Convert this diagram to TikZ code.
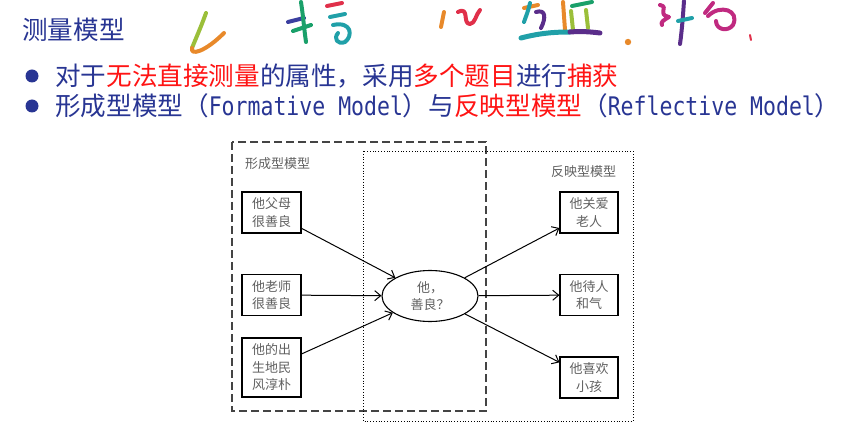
\documentclass[tikz,border=0pt]{standalone}
\usepackage{fontspec}
\setmainfont{Noto Sans CJK SC}
\newfontfamily\latmono{DejaVu Sans Mono}[FakeStretch=0.84]
\usetikzlibrary{arrows.meta,shapes.geometric}
\definecolor{inkblue}{HTML}{283593}
\definecolor{hotred}{HTML}{FF1414}
\definecolor{boxtext}{HTML}{606060}
\definecolor{frame}{HTML}{444444}
% brush colours of the decorative lettering
\definecolor{bOlive}{HTML}{9BBF3A}
\definecolor{bOrange}{HTML}{E8892A}
\definecolor{bBlue}{HTML}{3B3FA0}
\definecolor{bGreen}{HTML}{1AA06A}
\definecolor{bTeal}{HTML}{20A0A8}
\definecolor{bRed}{HTML}{E0304A}
\definecolor{bPurple}{HTML}{5A2D8A}
\definecolor{bMagenta}{HTML}{C02A80}
\begin{document}
\begin{tikzpicture}[x=1pt,y=-1pt,
  heading/.style={anchor=base west, inner sep=0, text=inkblue,
    font=\fontsize{25.6}{30}\selectfont},
  bulletdot/.style={circle, fill=inkblue, minimum size=13pt, inner sep=0},
  itembox/.style={rectangle, draw, line width=1.1pt, minimum width=59pt,
    minimum height=41pt, inner sep=0, align=center, text=boxtext,
    font=\fontsize{13}{17.5}\selectfont},
  latent/.style={ellipse, draw, line width=1.1pt, minimum width=96pt,
    minimum height=51pt, inner sep=0, align=center, text=boxtext,
    font=\fontsize{13}{17}\selectfont},
  grouplabel/.style={anchor=west, inner sep=0, text=boxtext,
    font=\fontsize{13}{15}\selectfont},
  link/.style={line width=1pt, -{Straight Barb[length=6pt,width=10pt]}},
  brush/.style={line width=4pt, line cap=round, line join=round},
]
\useasboundingbox (0,0) rectangle (853,438);

% ---- decorative lettering ----
\draw[brush, bOlive] (206,13) .. controls (201,27) and (196,38) .. (192,48);
\draw[brush, bOrange] (192,48) .. controls (190,56) and (205,52) .. (224,33);
\draw[brush, bBlue] (288,22) -- (304,18);
\draw[brush, bGreen] (301,2) .. controls (303,15) and (304,28) .. (306,42);
\draw[brush, bGreen] (293,31) -- (311,25);
\draw[brush, bRed] (327,6) -- (342,3);
\draw[brush, bTeal] (330,17) -- (345,14);
\draw[brush, bTeal] (333,25) .. controls (352,21) and (353,36) .. (345,42)
  .. controls (338,45) and (333,39) .. (338,33);
\draw[brush, bOrange] (444,12) -- (441,27);
\draw[brush, bRed] (458,12) .. controls (470,6) and (462,24) .. (470,24)
  .. controls (475,24) and (476,14) .. (480,10);
\draw[brush, bOrange] (524,8) -- (538,5);
\draw[brush, bTeal] (530,3) .. controls (528,12) and (526,16) .. (524,22);
\draw[brush, bPurple] (536,12) .. controls (546,9) and (546,18) .. (541,28);
\draw[brush, bOrange] (563,2) -- (565,30);
\draw[brush, bGreen] (572,6) -- (592,2);
\draw[brush, bOlive] (571,11) -- (573,30);
\draw[brush, bOlive] (586,10) -- (588,28);
\draw[brush, bTeal, line width=5pt] (521,38) .. controls (540,33) and (555,32) .. (570,32);
\draw[brush, bPurple, line width=5pt] (570,32) .. controls (582,31) and (592,32) .. (600,33);
\fill[bOrange] (628,42) circle (3.2);
\draw[brush, bMagenta] (660,5) .. controls (670,7) and (656,14) .. (669,17)
  .. controls (664,20) and (660,22) .. (662,25);
\draw[brush, bPurple] (684,1) .. controls (683,15) and (682,30) .. (680,44);
\draw[brush, bTeal] (678,21) -- (692,18);
\draw[brush, bMagenta] (713,3) -- (705,13);
\draw[brush, bMagenta] (708,16) .. controls (720,4) and (740,10) .. (733,25)
  .. controls (728,32) and (716,30) .. (716,21);
\draw[brush, bRed, line width=2pt] (750,35) -- (751,40);

% ---- heading and bullet points ----
\node[heading] (title) at (22,40) {测量模型};
\node[bulletdot] (dot1) at (32,76) {};
\node[bulletdot] (dot2) at (32,106) {};
\node[heading] (line1) at (55,86)
  {对于\textcolor{hotred}{无法直接测量}的属性，采用\textcolor{hotred}{多个题目}进行\textcolor{hotred}{捕获}};
\node[heading] (line2) at (55,116)
  {形成型模型（{\latmono Formative Model}）与\textcolor{hotred}{反映型模型}（{\latmono Reflective Model}）};

% ---- group frames ----
\draw[frame, line width=1.5pt, dash pattern=on 8pt off 4pt] (232,142) rectangle (486,411);
\draw[black, line width=0.8pt, dotted] (363,151) rectangle (633,421);
\node[grouplabel] (formlab) at (245,164) {形成型模型};
\node[grouplabel] (refllab) at (551,172) {反映型模型};

% ---- indicators and latent variable ----
\node[itembox] (f1) at (271.5,212.5) {他父母\\很善良};
\node[itembox] (f2) at (271.5,295) {他老师\\很善良};
\node[itembox, minimum height=59pt] (f3) at (271.5,367.5) {他的出\\生地民\\风淳朴};
\node[latent] (kind) at (430,296) {他，\\善良？};
\node[itembox, minimum width=58pt] (r1) at (589,212.5) {他关爱\\老人};
\node[itembox, minimum width=58pt] (r2) at (589,295) {他待人\\和气};
\node[itembox, minimum width=58pt] (r3) at (589,377.5) {他喜欢\\小孩};

% ---- paths ----
\draw[link] (f1) -- (kind);
\draw[link] (f2) -- (kind);
\draw[link] (f3) -- (kind);
\draw[link] (kind) -- (r1);
\draw[link] (kind) -- (r2);
\draw[link] (kind) -- (r3);
\end{tikzpicture}
\end{document}
